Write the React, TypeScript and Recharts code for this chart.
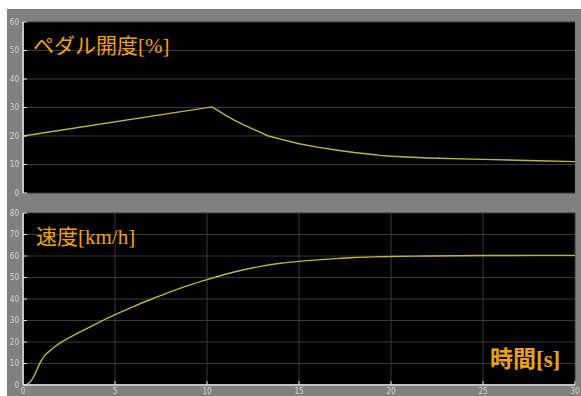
import React from "react";
import { LineChart, Line, XAxis, YAxis, CartesianGrid } from "recharts";

const pedalTime = [0, 10.27, 10.6, 11, 11.5, 12, 12.5, 13, 13.3, 14, 15, 16, 17, 18, 19, 19.4, 20, 22, 25, 28, 30];
const pedalValue = [20, 30.2, 28.9, 27.3, 25.5, 23.9, 22.4, 21.0, 20.1, 18.9, 17.3, 16.1, 15.1, 14.2, 13.5, 13.2, 12.9, 12.3, 11.8, 11.3, 11.0];

const speedTime = [0, 0.2, 0.4, 0.6, 0.8, 1.0, 1.2, 1.5, 1.75, 2, 2.5, 3, 4, 5, 6, 7, 8, 9, 10, 11, 12, 13, 14, 15, 16, 17, 18, 19, 20, 22, 25, 30];
const speedValue = [0, 0.3, 1.5, 4.2, 8.0, 11.5, 13.9, 16.2, 17.9, 19.5, 21.9, 24.2, 28.6, 32.7, 36.5, 40.0, 43.3, 46.3, 49.0, 51.5, 53.6, 55.3, 56.6, 57.5, 58.2, 58.8, 59.3, 59.6, 59.8, 60.0, 60.2, 60.3];

const xTicks = [0, 5, 10, 15, 20, 25, 30];
const pedalTicks = [0, 10, 20, 30, 40, 50, 60];
const speedTicks = [0, 10, 20, 30, 40, 50, 60, 70, 80];

const pedalData = pedalTime.map((t, i) => ({ t, v: pedalValue[i] }));
const speedData = speedTime.map((t, i) => ({ t, v: speedValue[i] }));

const BORDER = "#c4c4c4";
const GRID = "#3a3a3a";
const LINE = "#b9b83c";
const TICKTXT = { fill: "#d4d4d4", fontSize: 8, fontFamily: "'Liberation Sans Narrow', 'DejaVu Sans Condensed', sans-serif" };
const LABEL: React.CSSProperties = {
  position: "absolute",
  color: "#eea211",
  fontFamily: "'Liberation Serif', 'DejaVu Serif', 'Noto Sans CJK JP', serif",
  lineHeight: 1,
  whiteSpace: "nowrap",
};

function Panel({ yTicks, yMax, showX }: { yTicks: number[]; yMax: number; showX: boolean }) {
  return (
    <>
      <XAxis dataKey="t" type="number" domain={[0, 30]} ticks={xTicks} height={showX ? 11 : 0}
        tick={showX ? TICKTXT : false} tickSize={-4} tickMargin={7}
        axisLine={{ stroke: BORDER, strokeWidth: 2 }} tickLine={{ stroke: "#e0e0e0" }} interval={0} />
      <XAxis xAxisId="top" orientation="top" dataKey="t" type="number" domain={[0, 30]} ticks={xTicks} height={0}
        tick={false} tickSize={-4} axisLine={{ stroke: BORDER, strokeWidth: 2 }} tickLine={{ stroke: "#e0e0e0" }} />
      <YAxis type="number" domain={[0, yMax]} ticks={yTicks} width={23} tick={TICKTXT} tickSize={-4} tickMargin={8}
        axisLine={{ stroke: BORDER, strokeWidth: 2 }} tickLine={{ stroke: "#e0e0e0" }} interval={0} />
      <YAxis yAxisId="right" orientation="right" type="number" domain={[0, yMax]} ticks={yTicks} width={0}
        tick={false} tickSize={-4} axisLine={{ stroke: BORDER, strokeWidth: 2 }} tickLine={{ stroke: "#e0e0e0" }} />
    </>
  );
}

export default function App() {
  return (
    <div style={{ position: "absolute", left: 0, top: 0, width: 581, height: 396, background: "#fff", overflow: "hidden" }}>
      <div style={{ position: "absolute", left: 7, top: 9, width: 574, height: 387, background: "#808080" }} />
      <div style={{ position: "absolute", left: 0, top: 0 }}>
        <LineChart width={581} height={200} data={pedalData} margin={{ top: 22, right: 6, bottom: 7, left: 0 }}>
          <CartesianGrid stroke={GRID} fill="#000" horizontalValues={pedalTicks} verticalValues={xTicks} />
          {Panel({ yTicks: pedalTicks, yMax: 60, showX: false })}
          <Line dataKey="v" stroke={LINE} strokeWidth={1.4} dot={false} isAnimationActive={false} type="linear" />
        </LineChart>
      </div>
      <div style={{ position: "absolute", left: 0, top: 200 }}>
        <LineChart width={581} height={196} data={speedData} margin={{ top: 13, right: 6, bottom: 0, left: 0 }}>
          <CartesianGrid stroke={GRID} fill="#000" horizontalValues={speedTicks} verticalValues={xTicks} />
          {Panel({ yTicks: speedTicks, yMax: 80, showX: true })}
          <Line dataKey="v" stroke={LINE} strokeWidth={1.4} dot={false} isAnimationActive={false} type="monotone" />
        </LineChart>
      </div>
      <div style={{ ...LABEL, left: 33, top: 36, fontSize: 21 }}>ペダル開度[%]</div>
      <div style={{ ...LABEL, left: 36, top: 227, fontSize: 21 }}>速度[km/h]</div>
      <div style={{ ...LABEL, left: 490, top: 348, fontSize: 23, fontWeight: 600 }}>時間[s]</div>
    </div>
  );
}
